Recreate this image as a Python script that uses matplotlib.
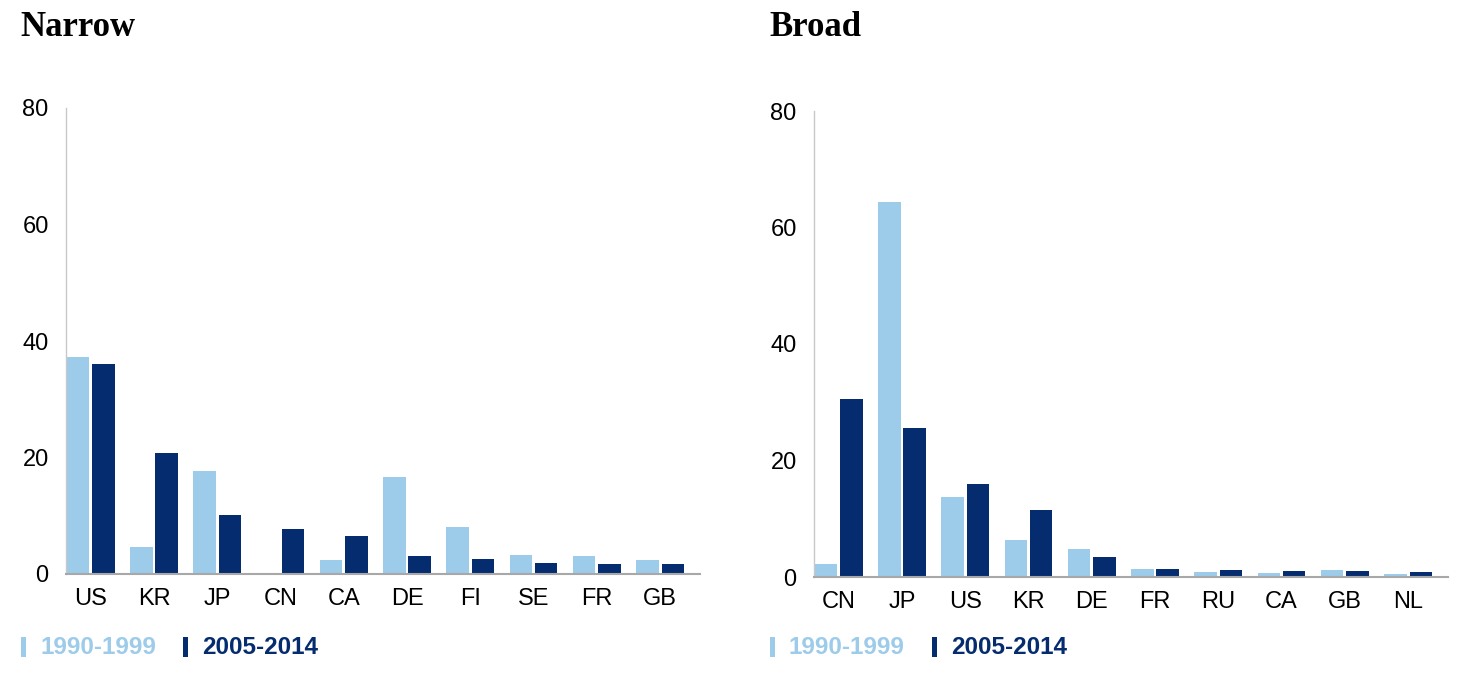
import numpy as np
import matplotlib
matplotlib.use('Agg')
import matplotlib.pyplot as plt
from matplotlib.patches import Rectangle

## data
periods = ['1990-1999', '2005-2014']

narrow_cats = ['US', 'KR', 'JP', 'CN', 'CA', 'DE', 'FI', 'SE', 'FR', 'GB']
narrow_early = [37.3, 4.6, 17.7, 0.2, 2.4, 16.6, 8.1, 3.2, 3.1, 2.4]
narrow_late = [36.1, 20.7, 10.2, 7.7, 6.6, 3.1, 2.5, 1.9, 1.8, 1.8]

broad_cats = ['CN', 'JP', 'US', 'KR', 'DE', 'FR', 'RU', 'CA', 'GB', 'NL']
broad_early = [2.3, 64.4, 13.8, 6.4, 4.8, 1.4, 0.9, 0.7, 1.2, 0.6]
broad_late = [30.5, 25.5, 15.9, 11.5, 3.5, 1.4, 1.2, 1.0, 0.95, 0.8]

light = '#9dcbea'
dark = '#042c6e'
W, H = 1476, 677

plt.rcParams['font.family'] = ['Liberation Sans', 'DejaVu Sans']

fig = plt.figure(figsize=(W/100, H/100), dpi=100)


def panel(rect, cats, early, late, title, title_x, leg_x):
    ax = fig.add_axes(rect)
    x = np.arange(len(cats))
    bw = 0.355
    ax.bar(x - 0.2, early, width=bw, color=light, zorder=2)
    ax.bar(x + 0.2, late, width=bw, color=dark, zorder=2)
    ax.set_xlim(-0.39, len(cats) - 1 + 0.63)
    ax.set_ylim(0, 80)
    ax.set_yticks([0, 20, 40, 60, 80])
    ax.set_xticks(x)
    ax.set_xticklabels(cats)
    ax.tick_params(axis='both', length=0, labelsize=17, colors='black')
    ax.tick_params(axis='y', pad=12.5)
    ax.tick_params(axis='x', pad=10)
    for s in ['top', 'right']:
        ax.spines[s].set_visible(False)
    ax.spines['left'].set_color('#c8c8c8')
    ax.spines['left'].set_linewidth(1.0)
    ax.spines['bottom'].set_color('#a8a8a8')
    ax.spines['bottom'].set_linewidth(1.5)
    ax.spines['bottom'].set_zorder(3)

    fig.text(title_x/W, 1 - 27/H, title, family=['Liberation Serif', 'DejaVu Serif'],
             fontweight='bold', fontsize=25, va='center', ha='left')

    # legend: thin bar marker + coloured label
    x0 = leg_x
    for lab, col, off in zip(periods, [light, dark], [0, 162]):
        fig.add_artist(Rectangle(((x0 + off)/W, 1 - 657/H), 5/W, 20/H,
                                 transform=fig.transFigure, color=col, lw=0))
        fig.text((x0 + off + 19)/W, 1 - 647/H, lab, color=col, fontsize=17.5,
                 fontweight='bold', va='center', ha='left')
    return ax


panel([66/W, 1 - 574/H, 634/W, 466/H], narrow_cats, narrow_early, narrow_late,
      'Narrow', 20, 21)
panel([814/W, 1 - 577/H, 634/W, 466/H], broad_cats, broad_early, broad_late,
      'Broad', 769, 770)

fig.savefig('out.png', dpi=100)
